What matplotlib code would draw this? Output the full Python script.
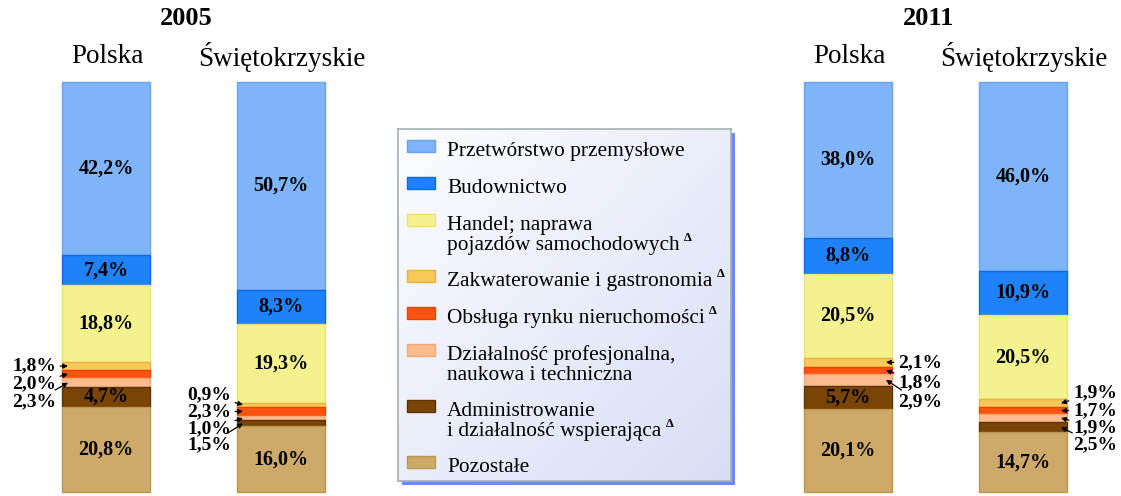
import matplotlib.pyplot as plt
import numpy as np
from matplotlib.patches import Rectangle

plt.rcParams['font.family'] = ['Liberation Serif', 'DejaVu Serif']

# ===== Dane =====
categories = [
    "Przetwórstwo przemysłowe",
    "Budownictwo",
    "Handel; naprawa\npojazdów samochodowych",
    "Zakwaterowanie i gastronomia",
    "Obsługa rynku nieruchomości",
    "Działalność profesjonalna,\nnaukowa i techniczna",
    "Administrowanie\ni działalność wspierająca",
    "Pozostałe",
]
delta_mark = [False, False, True, True, True, False, True, False]

years = ["2005", "2011"]
regions = ["Polska", "Świętokrzyskie"]

polska_2005 = [42.2, 7.4, 18.8, 1.8, 2.0, 2.3, 4.7, 20.8]
swiet_2005 = [50.7, 8.3, 19.3, 0.9, 2.3, 1.0, 1.5, 16.0]
polska_2011 = [38.0, 8.8, 20.5, 2.1, 1.8, 2.9, 5.7, 20.1]
swiet_2011 = [46.0, 10.9, 20.5, 1.9, 1.7, 1.9, 2.5, 14.7]
series = [polska_2005, swiet_2005, polska_2011, swiet_2011]

colors = ["#80B4F8", "#1E82FA", "#F4F28E", "#F8C858",
          "#FC5410", "#FCBC8E", "#7A4406", "#CEAA6A"]
edges = ["#6AA2F2", "#1068E8", "#ECE470", "#ECB040",
         "#E84400", "#F2A878", "#5E3404", "#BC9650"]

# ===== Mise en page (pixels) =====
W, H = 1121, 496
TOP, SCALE = 82, 4.1           # bar top pixel, pixels per percent
bar_x = [106, 281, 848, 1023]
bar_w = 88
side = ["left", "left", "right", "right"]
small_start = [366, 395, 363, 393]
small_step = [18, 16.7, 19.5, 17.3]


def py(p):
    return (p - TOP) / SCALE


def fmt(v):
    return f"{v:.1f}".replace(".", ",") + "%"


fig = plt.figure(figsize=(W / 100, H / 100), dpi=100)
ax = fig.add_axes([0, 0, 1, 1])
ax.set_xlim(0, W)
ax.set_ylim(py(H), py(0))
ax.axis("off")

for i, vals in enumerate(series):
    cum = np.concatenate([[0], np.cumsum(vals)[:-1]])
    ax.bar([bar_x[i]] * len(vals), vals, bottom=cum, width=bar_w,
           color=colors, edgecolor=edges, linewidth=1)
    k = 0
    for v, c in zip(vals, cum):
        mid = c + v / 2
        if v >= 4:
            ax.text(bar_x[i], mid, fmt(v), ha="center", va="center",
                    fontsize=14.5, fontweight="bold")
            continue
        ty = py(small_start[i] + k * small_step[i])
        k += 1
        if side[i] == "left":
            tx = bar_x[i] - bar_w / 2 - 6
            ax_ = bar_x[i] - bar_w / 2 + 6
            ha = "right"
        else:
            tx = bar_x[i] + bar_w / 2 + 6
            ax_ = bar_x[i] + bar_w / 2 - 6
            ha = "left"
        ax.annotate(fmt(v), xy=(ax_, mid), xytext=(tx, ty), ha=ha, va="center",
                    fontsize=14, fontweight="bold",
                    arrowprops=dict(arrowstyle="-|>", color="black", lw=0.9,
                                    mutation_scale=7, shrinkA=1, shrinkB=0))

# titres
for j, year in enumerate(years):
    xm = (bar_x[2 * j] + bar_x[2 * j + 1]) / 2 - 7
    ax.text(xm, py(19), year, ha="center", va="center",
            fontsize=19, fontweight="bold")
    for r, reg in enumerate(regions):
        ax.text(bar_x[2 * j + r] + 1, py(57), reg, ha="center", va="center",
                fontsize=19.5)

# ===== Légende =====
lx0, ly0, lw, lh = 398, 129, 333, 352
ax.add_patch(Rectangle((lx0 + 4, py(ly0 + 4)), lw, lh / SCALE,
                       facecolor="#6A8CEE", edgecolor="none"))
lax = fig.add_axes([lx0 / W, 1 - (ly0 + lh) / H, lw / W, lh / H], zorder=2)
lax.set_xlim(0, lw)
lax.set_ylim(lh, 0)
gx, gy = np.meshgrid(np.linspace(0, 1, 100), np.linspace(0, 1, 100))
g = (gx + gy) / 2
c0 = np.array([252, 253, 255]) / 255
c1 = np.array([216, 222, 245]) / 255
img = c0 + (c1 - c0) * g[..., None]
lax.imshow(img, extent=(0, lw, lh, 0), aspect="auto")
lax.set_xticks([])
lax.set_yticks([])
for s in lax.spines.values():
    s.set_color("#A4B2B2")
    s.set_linewidth(1.2)

base = 27
for cat, col, ec, dm in zip(categories, colors, edges, delta_mark):
    lines = cat.split("\n")
    lax.add_patch(Rectangle((9, base - 16), 28, 12, facecolor=col,
                            edgecolor=ec, linewidth=1))
    t = None
    for n, line in enumerate(lines):
        t = lax.text(49, base + 20 * n, line, ha="left", va="baseline",
                     fontsize=15.4)
    if dm:
        lax.annotate("Δ", xy=(1, 0.9), xycoords=t, xytext=(3, 0),
                     textcoords="offset points", ha="left", va="center",
                     fontsize=9, fontweight="bold")
    base += 37 + 19 * (len(lines) - 1)

fig.savefig("out.png", dpi=100)
